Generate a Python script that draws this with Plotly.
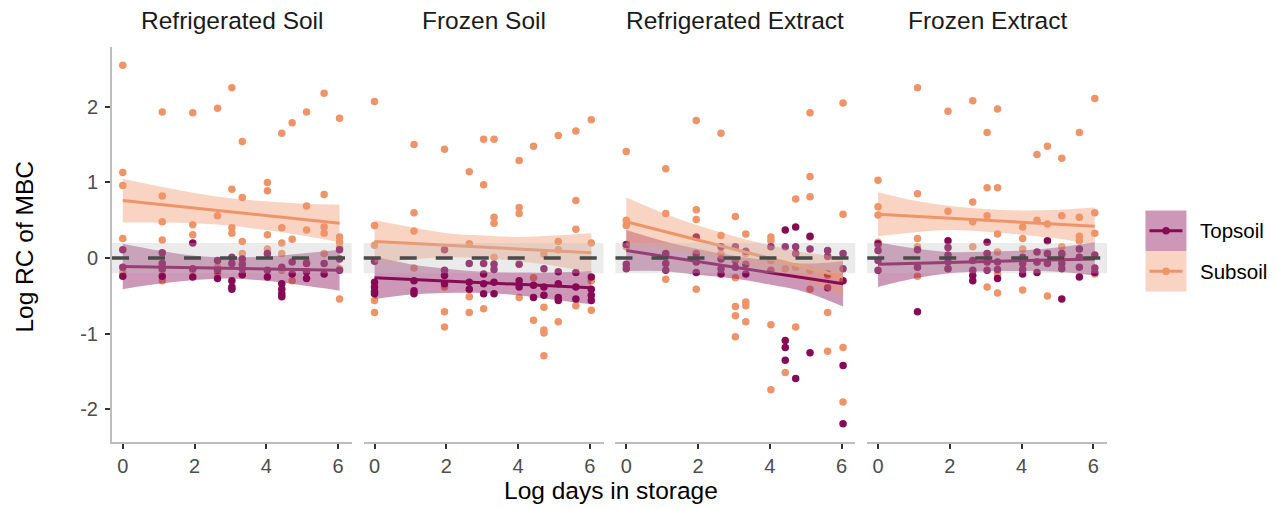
import plotly.graph_objects as go

# ---------------- data ----------------
panels = ["Refrigerated Soil", "Frozen Soil", "Refrigerated Extract", "Frozen Extract"]
groups = ["Topsoil", "Subsoil"]
log_days = [0.0, 1.10, 1.95, 2.64, 3.04, 3.33, 4.03, 4.43, 4.72, 5.12, 5.61, 6.04]
x_ticks = [0, 2, 4, 6]
y_ticks = [-2, -1, 0, 1, 2]
y_tick_text = ["-2", "-1", "0", "1", "2"]

# points: one inner list per storage time (log_days order)
rs_sub = [[2.55, 1.13, 0.96, 0.26, -0.19], [1.93, 0.82, 0.48, 0.24, -0.30, -0.16], [1.92, 0.44, 0.31, -0.16],
          [1.98, 0.56, -0.12, -0.20], [2.25, 0.91, 0.40, 0.33, 0.0], [1.54, 0.80, 0.22, 0.06, -0.21],
          [1.00, 0.89, 0.31, 0.12], [1.65, 0.40, 0.20, 0.06, -0.16], [1.79, 0.25, -0.30],
          [1.93, 0.69, 0.37, -0.04], [2.18, 0.84, 0.41, 0.33, 0.06], [1.85, 0.28, 0.21, 0.14, -0.14, -0.54]]
rs_top = [[0.11, -0.12, -0.24], [0.07, -0.07, -0.14, -0.24], [0.20, -0.14, -0.25], [-0.03, -0.16, -0.27],
          [0.01, -0.07, -0.30, -0.38, -0.41], [-0.01, -0.08, -0.14, -0.22], [0.06, -0.16, -0.25],
          [-0.12, -0.34, -0.41, -0.47, -0.51], [-0.05, -0.21], [-0.07, -0.18, -0.27], [-0.07, -0.21],
          [0.11, -0.01, -0.16]]
fs_sub = [[2.07, 0.43, 0.17, -0.56, -0.72], [1.50, 0.60, 0.36, -0.13], [1.44, -0.38, -0.71, -0.91],
          [1.14, 0.19, -0.51, -0.72], [1.57, 0.97, -0.67], [1.57, 0.54, 0.46, 0.01], [1.29, 0.67, 0.59, -0.52],
          [1.48, -0.26, -0.82], [0.05, -0.65, -0.95, -0.99, -1.29], [1.62, 0.22, 0.11, -0.84],
          [1.68, 0.76, 0.38, -0.63], [1.83, 0.20, -0.30, -0.69]]
fs_top = [[-0.04, -0.32, -0.38, -0.44, -0.47], [-0.30, -0.43, -0.47], [0.11, -0.16, -0.23, -0.34],
          [-0.07, -0.32, -0.41], [-0.07, -0.21, -0.34, -0.47], [-0.08, -0.15, -0.32, -0.47],
          [-0.08, -0.30, -0.38], [-0.36, -0.52], [-0.14, -0.38, -0.49], [-0.18, -0.34, -0.52, -0.56],
          [-0.19, -0.38, -0.54], [-0.25, -0.41, -0.49, -0.56]]
re_sub = [[1.41, 0.50, 0.43, 0.15], [1.18, 0.59, -0.28], [1.82, 0.64, 0.51, -0.41], [1.65, 0.30, 0.06],
          [0.55, -0.26, -0.64, -0.76, -1.04], [0.32, 0.06, -0.58, -0.63, -0.84], [0.28, 0.23, -0.03, -0.88, -1.74],
          [-0.14, -1.51], [0.78, -0.12, -0.91], [1.92, 1.08, 0.81, 0.28, -0.16, -0.41], [-0.23, -0.72, -1.23],
          [2.05, 0.58, -1.18, -1.90]]
re_top = [[0.18, -0.08, -0.14], [0.06, -0.07, -0.16], [0.28, 0.06, -0.05, -0.19], [0.15, -0.01, -0.14, -0.21],
          [0.15, -0.03, -0.12], [0.09, -0.08, -0.21], [0.15, -0.16], [0.37, 0.15, -1.09, -1.18, -1.35],
          [0.41, 0.15, 0.06, -1.59], [0.29, 0.12, -1.25], [0.10, 0.02, -0.21, -0.39],
          [0.06, -0.14, -0.30, -1.42, -2.19]]
fe_sub = [[1.03, 0.68, 0.57, 0.21, 0.17], [2.25, 0.85, 0.26, 0.15, -0.24], [1.94, 0.62, -0.14],
          [2.08, 0.74, 0.48, 0.15], [1.66, 0.93, 0.56, 0.06, -0.38], [1.97, 0.93, 0.32, 0.08, -0.21, -0.46],
          [0.41, 0.26, 0.12, -0.42], [1.37, 0.50, -0.05], [1.48, 0.45, 0.06, -0.50], [1.32, 0.56, 0.15, 0.04],
          [1.66, 0.54, 0.29, 0.23, 0.01], [2.11, 0.60, 0.33, -0.21]]
fe_top = [[0.19, 0.10, -0.03, -0.16], [0.11, -0.12, -0.71], [0.23, 0.14, 0.04, -0.05, -0.14],
          [-0.03, -0.16, -0.23, -0.30], [0.21, 0.06, -0.05, -0.16], [-0.05, -0.15, -0.27],
          [0.01, -0.07, -0.15, -0.21], [0.08, -0.05, -0.19], [0.23, 0.06, -0.07], [0.06, -0.07, -0.14, -0.54],
          [0.12, 0.01, -0.12, -0.25], [0.04, -0.13, -0.19]]

# fitted lines and 95% bands, read at these x positions
fit_x = [0.0, 1.0, 2.0, 3.0, 4.0, 5.0, 6.04]
rs_sub_fit = [0.76, 0.71, 0.66, 0.61, 0.56, 0.51, 0.46]
rs_sub_hi = [1.05, 0.95, 0.86, 0.79, 0.75, 0.72, 0.71]
rs_sub_lo = [0.47, 0.47, 0.46, 0.43, 0.37, 0.30, 0.21]
rs_top_fit = [-0.11, -0.12, -0.13, -0.13, -0.14, -0.15, -0.16]
rs_top_hi = [0.19, 0.10, 0.03, 0.01, 0.02, 0.06, 0.11]
rs_top_lo = [-0.41, -0.34, -0.29, -0.27, -0.30, -0.36, -0.43]
fs_sub_fit = [0.22, 0.195, 0.17, 0.145, 0.12, 0.095, 0.07]
fs_sub_hi = [0.50, 0.41, 0.33, 0.30, 0.28, 0.30, 0.33]
fs_sub_lo = [-0.06, -0.02, 0.01, 0.0, -0.04, -0.10, -0.19]
fs_top_fit = [-0.26, -0.28, -0.30, -0.32, -0.34, -0.37, -0.39]
fs_top_hi = [0.02, -0.08, -0.14, -0.18, -0.19, -0.19, -0.17]
fs_top_lo = [-0.54, -0.48, -0.46, -0.46, -0.49, -0.55, -0.61]
re_sub_fit = [0.48, 0.36, 0.24, 0.12, 0.0, -0.12, -0.25]
re_sub_hi = [0.80, 0.60, 0.43, 0.29, 0.17, 0.07, 0.02]
re_sub_lo = [0.16, 0.12, 0.05, -0.05, -0.17, -0.31, -0.52]
re_top_fit = [0.10, 0.03, -0.05, -0.12, -0.19, -0.26, -0.34]
re_top_hi = [0.37, 0.23, 0.12, 0.03, -0.03, -0.07, -0.04]
re_top_lo = [-0.17, -0.17, -0.22, -0.27, -0.35, -0.45, -0.64]
fe_sub_fit = [0.58, 0.55, 0.53, 0.50, 0.47, 0.45, 0.42]
fe_sub_hi = [0.87, 0.76, 0.69, 0.65, 0.63, 0.64, 0.67]
fe_sub_lo = [0.29, 0.34, 0.37, 0.35, 0.31, 0.26, 0.17]
fe_top_fit = [-0.08, -0.07, -0.06, -0.045, -0.035, -0.02, -0.01]
fe_top_hi = [0.21, 0.13, 0.08, 0.085, 0.10, 0.14, 0.21]
fe_top_lo = [-0.38, -0.27, -0.20, -0.175, -0.17, -0.18, -0.23]

ref_band = [-0.2, 0.2]

# ---------------- style ----------------
W, H = 1278, 509
ML, MR, MT, MB = 111.5, 170.5, 47, 67
PW = W - ML - MR
PH = H - MT - MB
panel_w, panel_gap = 240, 12
col = {"Topsoil": "#870A55", "Subsoil": "#EF9468"}
band = {"Topsoil": "rgba(135,10,85,0.42)", "Subsoil": "rgba(239,148,104,0.40)"}
FONT = "Liberation Sans, Arial, sans-serif"

series = [
    (rs_top, rs_sub, (rs_top_fit, rs_top_lo, rs_top_hi), (rs_sub_fit, rs_sub_lo, rs_sub_hi)),
    (fs_top, fs_sub, (fs_top_fit, fs_top_lo, fs_top_hi), (fs_sub_fit, fs_sub_lo, fs_sub_hi)),
    (re_top, re_sub, (re_top_fit, re_top_lo, re_top_hi), (re_sub_fit, re_sub_lo, re_sub_hi)),
    (fe_top, fe_sub, (fe_top_fit, fe_top_lo, fe_top_hi), (fe_sub_fit, fe_sub_lo, fe_sub_hi)),
]


def flatten(groups_by_day):
    xs, ys = [], []
    for xv, vals in zip(log_days, groups_by_day):
        for v in vals:
            xs.append(xv)
            ys.append(v)
    return xs, ys


fig = go.Figure()
layout_axes = {}
shapes = []
annotations = []

for i, (name, (top, sub, topfit, subfit)) in enumerate(zip(panels, series)):
    xa = "x" if i == 0 else f"x{i + 1}"
    xkey = "xaxis" if i == 0 else f"xaxis{i + 1}"
    d0 = (i * (panel_w + panel_gap)) / PW
    d1 = (i * (panel_w + panel_gap) + panel_w) / PW
    layout_axes[xkey] = dict(
        domain=[d0, d1], anchor="y", range=[-0.3, 6.38], tickvals=x_ticks,
        showline=True, linecolor="#BDBDBD", linewidth=2, ticks="outside", ticklen=5,
        tickcolor="#333333", tickwidth=1.5, showgrid=False, zeroline=False,
        tickfont=dict(family=FONT, size=20, color="#4D4D4D"),
    )
    # points
    for g, data in (("Subsoil", sub), ("Topsoil", top)):
        xs, ys = flatten(data)
        fig.add_trace(go.Scatter(x=xs, y=ys, mode="markers", xaxis=xa, yaxis="y",
                                 marker=dict(color=col[g], size=7.5, line=dict(width=0)),
                                 showlegend=False, hoverinfo="skip"))
    # ribbons (upper edge, then lower edge filled to it)
    for g, (fit, lo, hi) in (("Topsoil", topfit), ("Subsoil", subfit)):
        fig.add_trace(go.Scatter(x=fit_x, y=hi, mode="lines", line=dict(width=0, shape="spline"),
                                 xaxis=xa, yaxis="y", showlegend=False, hoverinfo="skip"))
        fig.add_trace(go.Scatter(x=fit_x, y=lo, mode="lines", line=dict(width=0, shape="spline"),
                                 fill="tonexty", fillcolor=band[g],
                                 xaxis=xa, yaxis="y", showlegend=False, hoverinfo="skip"))
    for g, (fit, lo, hi) in (("Topsoil", topfit), ("Subsoil", subfit)):
        fig.add_trace(go.Scatter(x=[fit_x[0], fit_x[-1]], y=[fit[0], fit[-1]], mode="lines",
                                 line=dict(color=col[g], width=3), xaxis=xa, yaxis="y",
                                 showlegend=False, hoverinfo="skip"))
    # reference band & dashed zero line
    xr = f"{xa} domain"
    shapes.append(dict(type="rect", xref=xr, yref="y", x0=0, x1=1, y0=ref_band[0], y1=ref_band[1],
                       fillcolor="rgba(190,190,190,0.30)", line=dict(width=0), layer="above"))
    shapes.append(dict(type="line", xref=xr, yref="y", x0=0, x1=1, y0=0, y1=0,
                       line=dict(color="#4A4A4A", width=3.5, dash="17px,19px"), layer="above"))
    # facet title
    annotations.append(dict(text=name, xref="paper", yref="paper", x=(d0 + d1) / 2, y=(H - MB - 20) / PH,
                            xanchor="center", yanchor="middle", showarrow=False,
                            font=dict(family=FONT, size=24.5, color="#1A1A1A")))


def px_x(p):
    return (p - ML) / PW


def px_y(p):
    return (H - MB - p) / PH


# axis titles
annotations.append(dict(text="Log days in storage", xref="paper", yref="paper", x=px_x(611), y=px_y(490),
                        xanchor="center", yanchor="middle", showarrow=False,
                        font=dict(family=FONT, size=24.5, color="#000000")))
annotations.append(dict(text="Log RC of MBC", xref="paper", yref="paper", x=px_x(23), y=px_y(247),
                        xanchor="center", yanchor="middle", showarrow=False, textangle=-90,
                        font=dict(family=FONT, size=24.5, color="#000000")))

# legend (drawn manually to mimic ggplot key boxes)
for k, g in enumerate(groups):
    top_px = 210.5 + k * 40.5
    shapes.append(dict(type="rect", xref="paper", yref="paper", x0=px_x(1146), x1=px_x(1187),
                       y0=px_y(top_px + 40.5), y1=px_y(top_px), fillcolor=band[g], line=dict(width=0),
                       layer="above"))
    cy = top_px + 20.25
    shapes.append(dict(type="line", xref="paper", yref="paper", x0=px_x(1150), x1=px_x(1183),
                       y0=px_y(cy), y1=px_y(cy), line=dict(color=col[g], width=3), layer="above"))
    shapes.append(dict(type="circle", xref="paper", yref="paper", x0=px_x(1162.8), x1=px_x(1170.4),
                       y0=px_y(cy + 3.8), y1=px_y(cy - 3.8), fillcolor=col[g], line=dict(width=0),
                       layer="above"))
    annotations.append(dict(text=g, xref="paper", yref="paper", x=px_x(1199), y=px_y(cy),
                            xanchor="left", yanchor="middle", showarrow=False,
                            font=dict(family=FONT, size=20.5, color="#000000")))

fig.update_layout(
    width=W, height=H, margin=dict(l=ML, r=MR, t=MT, b=MB, pad=0),
    paper_bgcolor="white", plot_bgcolor="white", showlegend=False,
    yaxis=dict(anchor="x", range=[-2.43, 2.79], tickvals=y_ticks, ticktext=y_tick_text, showline=True,
               linecolor="#BDBDBD", linewidth=2, ticks="outside", ticklen=5, tickcolor="#333333",
               tickwidth=1.5, showgrid=False, zeroline=False, ticklabelstandoff=3,
               tickfont=dict(family=FONT, size=20, color="#4D4D4D")),
    shapes=shapes, annotations=annotations,
    **layout_axes,
)

fig.write_html("out.html")
